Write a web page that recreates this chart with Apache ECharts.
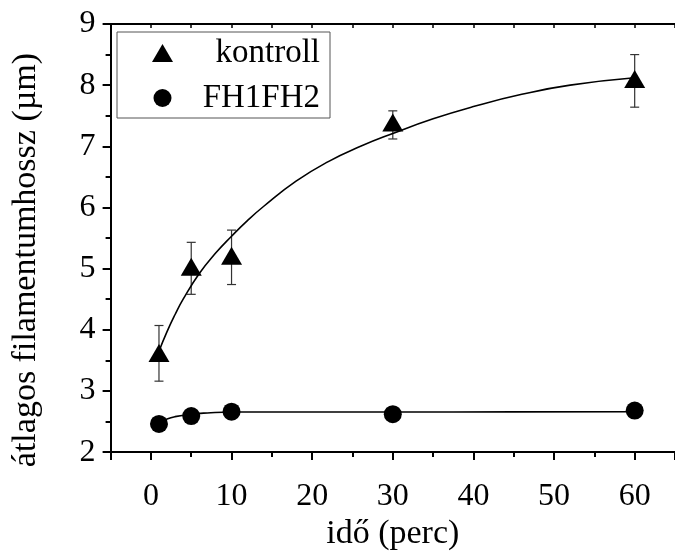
<!DOCTYPE html>
<html>
<head>
<meta charset="utf-8">
<script src="https://cdn.jsdelivr.net/npm/echarts@6/dist/echarts.min.js"></script>
<style>
html,body{margin:0;padding:0;background:#fff;}
#chart{width:675px;height:556px;}
</style>
</head>
<body>
<div id="chart"></div>
<script>
// ---- data ----
const timeX = [1, 5, 10, 30, 60];
const kontrollY = [3.62, 5.03, 5.21, 7.39, 8.10];
const kontrollHigh = [4.07, 5.43, 5.63, 7.58, 8.50];
const kontrollLow = [3.16, 4.58, 4.74, 7.12, 7.64];
const fhY = [2.46, 2.59, 2.66, 2.62, 2.68];

const kontrollFitX = [1, 2, 3, 4, 6, 8, 10, 12, 14, 18, 22, 26, 30, 35, 40, 46, 52, 60];
const kontrollFitY = [3.65, 3.97, 4.25, 4.50, 4.92, 5.25, 5.53, 5.79, 6.02, 6.43, 6.75, 7.00, 7.21, 7.45, 7.65, 7.85, 8.00, 8.12];
const fhFitX = [1, 2, 3, 5, 7, 10, 20, 30, 45, 60];
const fhFitY = [2.47, 2.54, 2.58, 2.62, 2.64, 2.655, 2.655, 2.655, 2.658, 2.66];

const xTitle = 'idő (perc)';
const yTitle = 'átlagos filamentumhossz (µm)';
const names = ['kontroll', 'FH1FH2'];

const FONT = '"Liberation Serif", "Times New Roman", serif';

const zip = (a, b) => a.map((v, i) => [v, b[i]]);

const chart = echarts.init(document.getElementById('chart'), null, {renderer: 'canvas'});
chart.setOption({
  backgroundColor: '#fff',
  animation: false,
  grid: {left: 110.6, top: 24, right: -9.6, bottom: 103, containLabel: false},
  legend: {
    data: names,
    orient: 'vertical',
    left: 117, top: 32,
    itemWidth: 21, itemHeight: 18,
    itemGap: 11,
    padding: [4, 10, 3, 35],
    borderColor: '#555', borderWidth: 1,
    backgroundColor: '#fff',
    formatter: function (name) { return '{t|' + name + '}'; },
    textStyle: {
      fontFamily: FONT, fontSize: 33, color: '#000', lineHeight: 34,
      rich: {t: {fontFamily: FONT, fontSize: 33, color: '#000', lineHeight: 34, width: 142, align: 'right'}}
    },
    selectedMode: false
  },
  xAxis: [{
    type: 'value', position: 'bottom', min: -5, max: 65, splitNumber: 7,
    name: xTitle, nameLocation: 'middle', nameGap: 56,
    nameTextStyle: {fontFamily: FONT, fontSize: 34, color: '#000'},
    axisLine: {show: true, onZero: false, lineStyle: {color: '#000', width: 2}},
    axisTick: {show: true, inside: false, length: 8, lineStyle: {color: '#000', width: 2}},
    minorTick: {show: true, splitNumber: 2, length: 5, lineStyle: {color: '#000', width: 2}},
    axisLabel: {fontFamily: FONT, fontSize: 32, color: '#000', margin: 28, showMinLabel: false, showMaxLabel: false},
    splitLine: {show: false}
  }, {
    type: 'value', position: 'top', min: -5, max: 65, interval: 5,
    axisLine: {show: true, onZero: false, lineStyle: {color: '#000', width: 2}},
    axisTick: {show: true, inside: true, length: 4, lineStyle: {color: '#000', width: 1.5}},
    axisLabel: {show: false},
    splitLine: {show: false}
  }],
  yAxis: [{
    type: 'value', min: 2, max: 9, interval: 1,
    name: yTitle, nameLocation: 'middle', nameGap: 68,
    nameTextStyle: {fontFamily: FONT, fontSize: 34, color: '#000', padding: [0, 0, 0, -44]},
    axisLine: {show: true, onZero: false, lineStyle: {color: '#000', width: 2}},
    axisTick: {show: true, inside: false, length: 8, lineStyle: {color: '#000', width: 2}},
    minorTick: {show: true, splitNumber: 2, length: 5, lineStyle: {color: '#000', width: 2}},
    axisLabel: {fontFamily: FONT, fontSize: 32, color: '#000', margin: 15},
    splitLine: {show: false}
  }],
  series: [
    {
      type: 'custom', name: 'errKontroll', silent: true, z: 1,
      data: timeX.map((x, i) => [x, kontrollLow[i], kontrollHigh[i]]),
      renderItem: function (params, api) {
        const x = api.value(0);
        const lo = api.coord([x, api.value(1)]);
        const hi = api.coord([x, api.value(2)]);
        const w = 4.5;
        const st = {stroke: '#333', lineWidth: 1.2};
        return {type: 'group', children: [
          {type: 'line', shape: {x1: hi[0], y1: hi[1], x2: lo[0], y2: lo[1]}, style: st},
          {type: 'line', shape: {x1: hi[0] - w, y1: hi[1], x2: hi[0] + w, y2: hi[1]}, style: st},
          {type: 'line', shape: {x1: lo[0] - w, y1: lo[1], x2: lo[0] + w, y2: lo[1]}, style: st}
        ]};
      }
    },
    {
      type: 'line', name: 'fitKontroll', data: zip(kontrollFitX, kontrollFitY), smooth: true,
      showSymbol: false, symbol: 'none', lineStyle: {color: '#000', width: 1.6}, z: 2, silent: true
    },
    {
      type: 'line', name: 'fitFH', data: zip(fhFitX, fhFitY), smooth: true,
      showSymbol: false, symbol: 'none', lineStyle: {color: '#000', width: 1.6}, z: 2, silent: true
    },
    {
      type: 'scatter', name: names[0], data: zip(timeX, kontrollY),
      symbol: 'triangle', symbolSize: [21, 18], itemStyle: {color: '#000', opacity: 1}, z: 3
    },
    {
      type: 'scatter', name: names[1], data: zip(timeX, fhY),
      symbol: 'circle', symbolSize: 18, itemStyle: {color: '#000', opacity: 1}, z: 3
    }
  ]
});
</script>
</body>
</html>
